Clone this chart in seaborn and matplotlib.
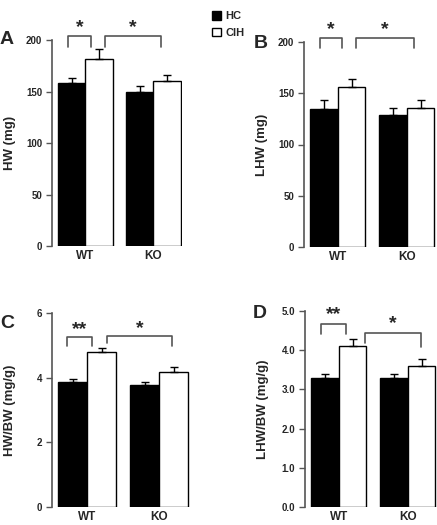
import numpy as np
import pandas as pd
import matplotlib
matplotlib.use("Agg")
import matplotlib.pyplot as plt
import seaborn as sns

# ---- data (WT, KO) ----
genotypes = ["WT", "KO"]
conditions = ["HC", "CIH"]

hw_hc = [158, 150]
hw_cih = [182, 160]
hw_hc_sem = [5, 5]
hw_cih_sem = [9, 6]

lhw_hc = [135, 129]
lhw_cih = [156, 136]
lhw_hc_sem = [8, 7]
lhw_cih_sem = [8, 7]

hwbw_hc = [3.87, 3.77]
hwbw_cih = [4.78, 4.17]
hwbw_hc_sem = [0.10, 0.09]
hwbw_cih_sem = [0.15, 0.15]

lhwbw_hc = [3.30, 3.30]
lhwbw_cih = [4.10, 3.60]
lhwbw_hc_sem = [0.10, 0.10]
lhwbw_cih_sem = [0.18, 0.18]

# significance labels: (WT HC vs WT CIH), (WT CIH vs KO CIH)
sig_A = ["*", "*"]
sig_B = ["*", "*"]
sig_C = ["**", "*"]
sig_D = ["**", "*"]

sns.set_style("white")
plt.rcParams["font.family"] = ["Liberation Sans", "DejaVu Sans"]
plt.rcParams["font.weight"] = "bold"

W, H = 437, 525
fig = plt.figure(figsize=(W / 100, H / 100), dpi=100)

XLIM = (-0.49, 1.42)
GRAY = "#555555"


def make_df(hc, cih):
    rows = []
    for i, g in enumerate(genotypes):
        rows.append({"genotype": g, "condition": "HC", "value": hc[i]})
        rows.append({"genotype": g, "condition": "CIH", "value": cih[i]})
    return pd.DataFrame(rows)


def panel(px_left, px_top, px_bottom, group_px, hc, cih, hc_sem, cih_sem,
          ylim, yticks, fmt, ylabel, sig, brackets, letter, letter_xy):
    width_px = (XLIM[1] - XLIM[0]) * group_px
    ax = fig.add_axes([px_left / W, 1 - px_bottom / H,
                       width_px / W, (px_bottom - px_top) / H])
    df = make_df(hc, cih)
    sns.barplot(data=df, x="genotype", y="value", hue="condition",
                hue_order=conditions, order=genotypes,
                palette=["black", "white"], edgecolor="black", linewidth=1,
                errorbar=None, width=0.8, ax=ax, legend=True)
    # upward-only error bars
    sems = [hc_sem, cih_sem]
    for cont, sem in zip(ax.containers, sems):
        xs = [b.get_x() + b.get_width() / 2 for b in cont]
        ys = [b.get_height() for b in cont]
        ax.errorbar(xs, ys, yerr=[np.zeros(len(sem)), sem], fmt="none",
                    ecolor="black", elinewidth=1, capsize=3, capthick=1,
                    zorder=1)
    ax.set_xlim(*XLIM)
    ax.set_ylim(*ylim)
    ax.set_yticks(yticks)
    ax.set_yticklabels([fmt.format(t) for t in yticks])
    ax.set_xlabel("")
    ax.set_ylabel(ylabel, fontsize=9.5, fontweight="bold")
    ax.yaxis.set_label_coords(-36 / width_px, 0.5)
    for s in ["top", "right", "bottom"]:
        ax.spines[s].set_visible(False)
    ax.spines["left"].set_color(GRAY)
    ax.spines["left"].set_linewidth(1.2)
    ax.tick_params(axis="y", direction="out", length=4, width=1, color=GRAY,
                   labelsize=7, pad=3, left=True)
    ax.tick_params(axis="x", length=0, labelsize=8.5, pad=3)
    for t in ax.get_xticklabels() + ax.get_yticklabels():
        t.set_fontweight("bold")
    # significance brackets
    for (x0, x1, ytop, yl0, yl1, ystar), s in zip(brackets, sig):
        ax.plot([x0, x0, x1, x1], [yl0, ytop, ytop, yl1], color=GRAY,
                lw=1.2, clip_on=False)
        ax.text((x0 + x1) / 2, ystar, s, ha="center", va="center",
                fontsize=14, fontweight="bold", clip_on=False)
    fig.text(letter_xy[0] / W, 1 - letter_xy[1] / H, letter, ha="left",
             va="center", fontsize=14, fontweight="bold")
    return ax


axA = panel(52, 40, 246, 68, hw_hc, hw_cih, hw_hc_sem, hw_cih_sem,
            (0, 200), [0, 50, 100, 150, 200], "{:.0f}", "HW (mg)", sig_A,
            [(-0.26, 0.09, 204, 193, 193, 212),
             (0.29, 1.12, 204, 193, 193, 212)],
            "A", (0, 40))
axB = panel(304, 42, 247, 69, lhw_hc, lhw_cih, lhw_hc_sem, lhw_cih_sem,
            (0, 200), [0, 50, 100, 150, 200], "{:.0f}", "LHW (mg)", sig_B,
            [(-0.26, 0.06, 204, 194, 194, 212),
             (0.26, 1.10, 204, 194, 194, 212)],
            "B", (254, 43))
axC = panel(52, 313, 507, 72, hwbw_hc, hwbw_cih, hwbw_hc_sem, hwbw_cih_sem,
            (0, 6), [0, 2, 4, 6], "{:.0f}", "HW/BW (mg/g)", sig_C,
            [(-0.28, 0.06, 5.27, 4.98, 4.98, 5.50),
             (0.28, 1.17, 5.29, 5.08, 4.98, 5.52)],
            "C", (0, 323))
axD = panel(305, 311, 507, 69, lhwbw_hc, lhwbw_cih, lhwbw_hc_sem, lhwbw_cih_sem,
            (0, 5), [0, 1, 2, 3, 4, 5], "{:.1f}", "LHW/BW (mg/g)", sig_D,
            [(-0.26, 0.10, 4.67, 4.42, 4.42, 4.90),
             (0.38, 1.19, 4.44, 4.19, 4.09, 4.67)],
            "D", (253, 313))

handles, labels = axA.get_legend_handles_labels()
for a in [axA, axB, axC, axD]:
    if a.get_legend() is not None:
        a.get_legend().remove()
fig.legend(handles, labels, loc="upper left",
           bbox_to_anchor=(202 / W, 1 - 1 / H), frameon=False,
           handlelength=0.8, handleheight=0.8, handletextpad=0.4,
           labelspacing=0.6, prop={"size": 8, "weight": "bold"})

fig.savefig("out.png", dpi=100)
